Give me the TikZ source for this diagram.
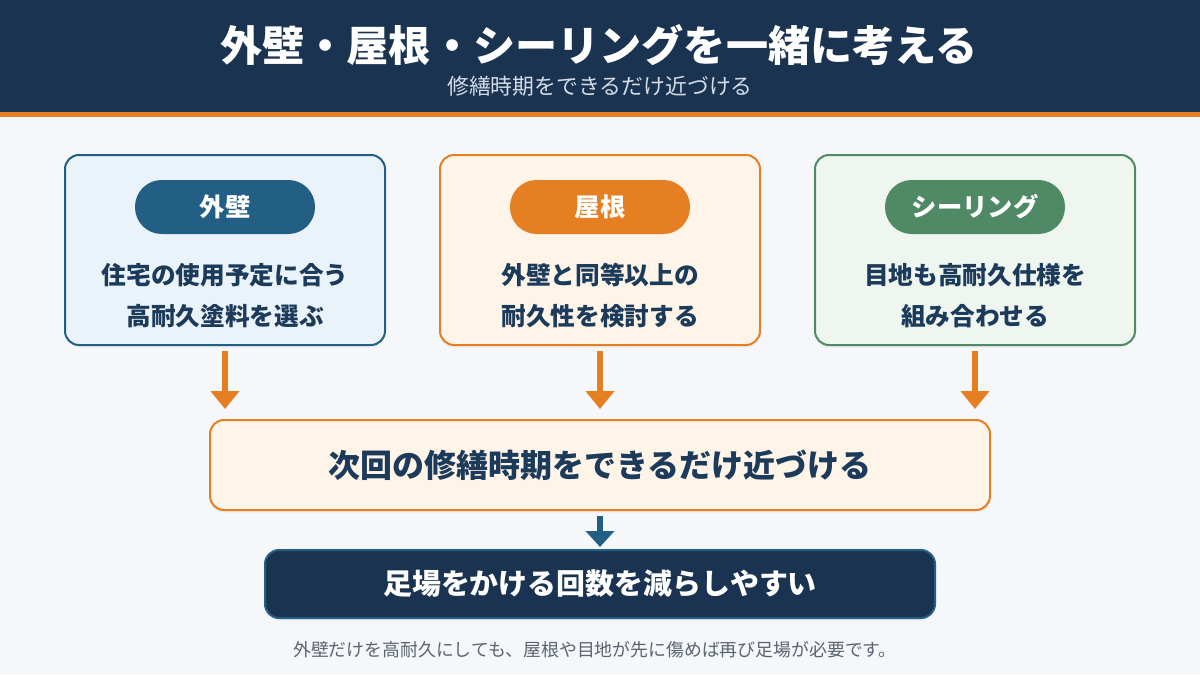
\documentclass[tikz,border=0pt]{standalone}
\usepackage{fontspec}
\setmainfont{Noto Sans CJK JP}
\usetikzlibrary{arrows.meta,shadows}
\definecolor{navy}{HTML}{1A3350}
\definecolor{orng}{HTML}{E67E22}
\definecolor{bluep}{HTML}{235F85}
\definecolor{greenp}{HTML}{4F8A64}
\definecolor{txtd}{HTML}{1C3A5A}
\definecolor{bgc}{HTML}{F5F7FA}
\definecolor{fblue}{HTML}{EBF3FA}
\definecolor{forng}{HTML}{FEF4E8}
\definecolor{fgreen}{HTML}{EEF6EF}
\definecolor{subc}{HTML}{D3DCE7}
\definecolor{notec}{HTML}{5A6470}
\tikzset{
  card/.style={draw=#1, line width=1.5pt, rounded corners=10.5pt, minimum width=240pt, minimum height=142.5pt,
    drop shadow={opacity=0.08, shadow xshift=0pt, shadow yshift=-2pt}},
  pill/.style={fill=#1, rounded corners=20pt, minimum width=135pt, minimum height=40.5pt, text=white,
    font=\fontsize{19}{22}\selectfont\bfseries},
  cardtxt/.style={text=txtd, align=center, font=\fontsize{18.5}{30.75}\selectfont\bfseries},
  orarr/.style={draw=orng, line width=4.5pt, -{Triangle[width=21pt,length=13.5pt]}},
  blarr/.style={draw=bluep, line width=4.5pt, -{Triangle[width=21pt,length=12pt]}}
}
\begin{document}
\begin{tikzpicture}[x=0.75pt,y=-0.75pt]
\useasboundingbox (0,0) rectangle (1200,675);
\fill[bgc] (0,0) rectangle (1200,675);
\fill[navy] (0,0) rectangle (1200,112);
\fill[orng] (0,112) rectangle (1200,117);
\node[text=white, font=\fontsize{31.6}{36}\selectfont\bfseries] (title) at (599,45) {外壁・屋根・シーリングを一緒に考える};
\node[text=subc, font=\fontsize{16.4}{19}\selectfont] (sub) at (600,86) {修繕時期をできるだけ近づける};

\node[card=bluep, fill=fblue] (b1) at (225,250) {};
\node[card=orng, fill=forng] (b2) at (600,250) {};
\node[card=greenp, fill=fgreen] (b3) at (975,250) {};

\node[pill=bluep] (p1) at (225,207) {外壁};
\node[pill=orng] (p2) at (600,207) {屋根};
\node[pill=greenp] (p3) at (975,207) {シーリング};

\node[cardtxt] (t1) at (225,296) {住宅の使用予定に合う\\高耐久塗料を選ぶ};
\node[cardtxt] (t2) at (600,296) {外壁と同等以上の\\耐久性を検討する};
\node[cardtxt] (t3) at (975,296) {目地も高耐久仕様を\\組み合わせる};

\node[draw=orng, fill=forng, line width=1.5pt, rounded corners=10.5pt, minimum width=585pt, minimum height=67.5pt,
  drop shadow={opacity=0.08, shadow xshift=0pt, shadow yshift=-2pt},
  text=txtd, font=\fontsize{24}{28}\selectfont\bfseries] (mid) at (600,465) {次回の修繕時期をできるだけ近づける};

\node[draw=bluep, fill=navy, line width=1.5pt, rounded corners=10.5pt, minimum width=502.5pt, minimum height=51pt,
  drop shadow={opacity=0.08, shadow xshift=0pt, shadow yshift=-2pt},
  text=white, font=\fontsize{21.7}{25}\selectfont\bfseries] (bot) at (600,584) {足場をかける回数を減らしやすい};

\draw[orarr, shorten <=3.75pt, shorten >=7.5pt] (b1.south) -- (b1.south |- mid.north);
\draw[orarr, shorten <=3.75pt, shorten >=7.5pt] (b2.south) -- (b2.south |- mid.north);
\draw[orarr, shorten <=3.75pt, shorten >=7.5pt] (b3.south) -- (b3.south |- mid.north);
\draw[blarr, shorten <=3.75pt, shorten >=1.5pt] (mid.south) -- (bot.north);

\node[text=notec, font=\fontsize{13.4}{16}\selectfont] (note) at (595,650) {外壁だけを高耐久にしても、屋根や目地が先に傷めば再び足場が必要です。};
\end{tikzpicture}
\end{document}
